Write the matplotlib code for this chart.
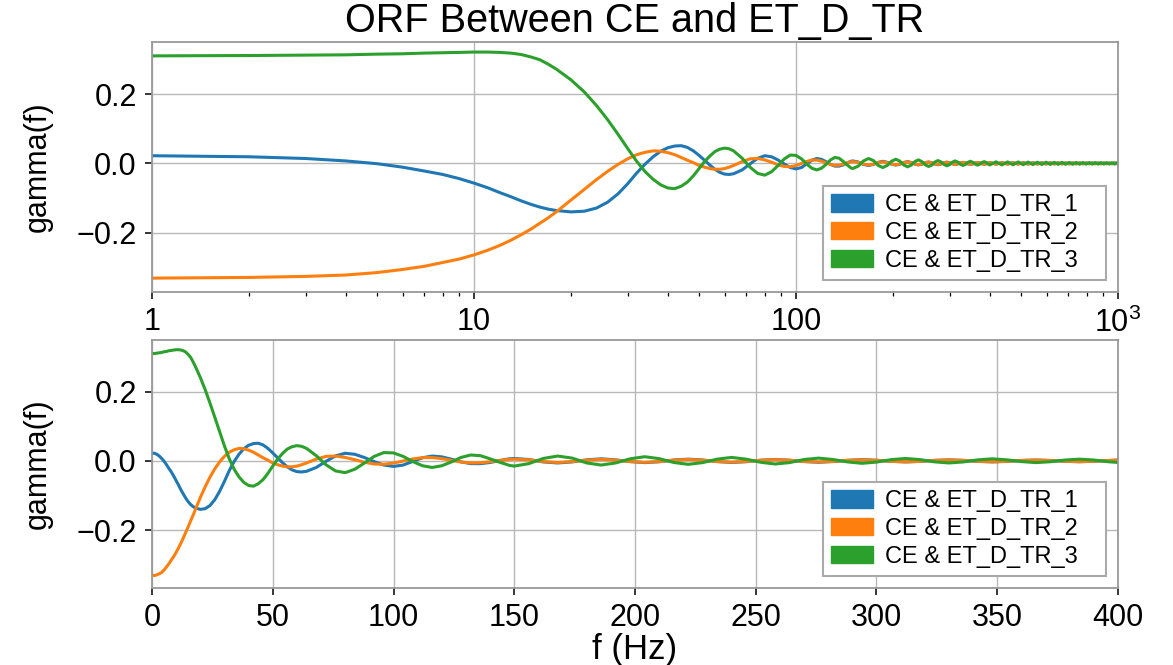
import matplotlib
matplotlib.use("Agg")
import matplotlib.pyplot as plt
from matplotlib.patches import Patch
import numpy as np

# ---------------- data ----------------
freq = [0, 1, 2, 3, 4, 5, 6, 7, 8, 9,
        10, 11, 12, 13, 14, 15, 16, 17, 18,
        20, 22, 24, 26, 28, 30, 32, 34, 36, 38, 40, 42, 44, 46, 48,
        50, 52, 54, 56, 58, 60, 62, 64,
        68, 72, 76, 80, 84, 88, 92, 96, 100, 104, 108, 112, 116, 120, 124, 128, 132,
        136, 140, 144, 148,
        150, 156, 162, 168, 174, 180, 186, 192, 198, 204, 210, 216, 222, 228, 234, 240,
        246, 252, 258, 264, 270, 276, 282, 288, 294, 300, 306, 312, 318, 324, 330, 336,
        342, 348, 354, 360, 366, 372, 378, 384, 390, 396, 400,
        418, 436, 454, 472, 490, 508, 526, 544, 562, 580, 598, 616, 634, 652, 670, 688,
        706, 724, 742, 760, 778, 796, 814, 832, 850, 868, 886, 904, 922, 940, 958, 976,
        994, 1000]

gamma_tr1 = [0.022, 0.022, 0.019, 0.014, 0.007, -0.001, -0.011, -0.022, -0.032, -0.044,
             -0.057, -0.070, -0.084, -0.096, -0.108, -0.118, -0.126, -0.132, -0.136,
             -0.140, -0.138, -0.129, -0.112, -0.088,
             -0.059, -0.028, -0.002, 0.019, 0.035, 0.045, 0.050, 0.051, 0.046, 0.036,
             0.023, 0.009, -0.005, -0.017, -0.026, -0.031, -0.032, -0.030,
             -0.019, -0.0015, 0.0145, 0.022, 0.019, 0.0096, -0.002, -0.012, -0.016, -0.012,
             -0.0015, 0.009, 0.014, 0.0116, 0.0048, -0.003, -0.008, -0.008, -0.0046, 0.001, 0.006,
             0.007, 0.004, -0.003, -0.006, -0.003, 0.003, 0.006, 0.003, -0.002, -0.005,
             -0.0025, 0.0025, 0.005, 0.0026, -0.002, -0.0045, -0.0024, 0.002, 0.004, 0.002,
             -0.002, -0.004, -0.002, 0.0016, 0.0035, 0.0019, -0.0014, -0.003, -0.0015, 0.0015,
             0.003, 0.0015, -0.0015, -0.003, -0.0016, 0.0012, 0.0025, 0.0012, -0.0012, -0.0025,
             -0.0012, 0.0012, 0.0025,
             -0.0024, 0.0023, -0.0022, 0.0022, -0.0021, 0.002, -0.002, 0.0019, -0.0019, 0.0018,
             -0.0018, 0.0017, -0.0017, 0.0016, -0.0016, 0.0015, -0.0015, 0.0015, -0.0014, 0.0014,
             -0.0014, 0.0013, -0.0013, 0.0013, -0.0012, 0.0012, -0.0012, 0.0012, -0.0011, 0.0011,
             -0.0011, 0.0011, -0.001, 0.0005]

gamma_tr2 = [-0.330, -0.331, -0.329, -0.326, -0.322, -0.315, -0.306, -0.297, -0.286, -0.276,
             -0.264, -0.251, -0.237, -0.222, -0.206, -0.190, -0.173, -0.157, -0.140,
             -0.106, -0.075, -0.047, -0.023, -0.003,
             0.013, 0.025, 0.032, 0.036, 0.035, 0.031, 0.025, 0.017, 0.009, 0.002,
             -0.006, -0.011, -0.015, -0.017, -0.017, -0.015, -0.011, -0.006,
             0.005, 0.013, 0.014, 0.010, 0.0033, -0.004, -0.009, -0.0097, -0.0063, -0.0004,
             0.0056, 0.0095, 0.0096, 0.0064, 0.0014, -0.0034, -0.0059, -0.0053, -0.0024, 0.0014, 0.0043,
             0.005, 0.003, -0.002, -0.0045, -0.002, 0.002, 0.0045, 0.002, -0.002, -0.004,
             -0.002, 0.002, 0.004, 0.002, -0.002, -0.0035, -0.0018, 0.0017, 0.0035, 0.0017,
             -0.0017, -0.003, -0.0015, 0.0015, 0.003, 0.0015, -0.0013, -0.0028, -0.0014, 0.0013,
             0.0026, 0.0013, -0.0012, -0.0025, -0.0012, 0.0011, 0.0023, 0.0011, -0.0011, -0.0022,
             -0.0011, 0.0011, 0.0022,
             -0.0022, 0.0021, -0.002, 0.002, -0.0019, 0.0018, -0.0018, 0.0017, -0.0017, 0.0016,
             -0.0016, 0.0015, -0.0015, 0.0014, -0.0014, 0.0014, -0.0013, 0.0013, -0.0013, 0.0012,
             -0.0012, 0.0012, -0.0011, 0.0011, -0.0011, 0.0011, -0.001, 0.001, -0.001, 0.001,
             -0.001, 0.001, -0.0009, 0.0005]

gamma_tr3 = [0.310, 0.310, 0.311, 0.312, 0.313, 0.315, 0.316, 0.318, 0.319, 0.320,
             0.321, 0.321, 0.320, 0.318, 0.314, 0.307, 0.299, 0.286, 0.272,
             0.241, 0.206, 0.167, 0.126, 0.084,
             0.043, 0.006, -0.024, -0.046, -0.062, -0.071, -0.073, -0.066, -0.054, -0.036,
             -0.015, 0.005, 0.021, 0.034, 0.041, 0.044, 0.042, 0.036,
             0.015, -0.011, -0.029, -0.034, -0.024, -0.006, 0.013, 0.024, 0.023, 0.013,
             -0.002, -0.014, -0.019, -0.014, -0.003, 0.010, 0.017, 0.015, 0.006, -0.004, -0.013,
             -0.015, -0.008, 0.007, 0.014, 0.008, -0.006, -0.012, -0.006, 0.006, 0.012,
             0.0065, -0.0045, -0.010, -0.005, 0.005, 0.010, 0.005, -0.004, -0.009, -0.005,
             0.004, 0.008, 0.004, -0.003, -0.007, -0.0035, 0.0035, 0.007, 0.0037, -0.0028,
             -0.006, -0.003, 0.003, 0.006, 0.003, -0.002, -0.005, -0.0025, 0.0025, 0.005,
             0.0025, -0.0025, -0.0045,
             0.0045, -0.0045, 0.0042, -0.0041, 0.004, -0.0038, 0.0037, -0.0035, 0.0034, -0.0033,
             0.0032, -0.0031, 0.003, -0.0029, 0.0029, -0.0028, 0.0027, -0.0027, 0.0026, -0.0025,
             0.0025, -0.0024, 0.0024, -0.0023, 0.0023, -0.0022, 0.0022, -0.0021, 0.0021, -0.0021,
             0.002, -0.002, 0.002, 0.001]

labels = ["CE & ET_D_TR_1", "CE & ET_D_TR_2", "CE & ET_D_TR_3"]
colors = ["#1f77b4", "#ff7f0e", "#2ca02c"]
title = "ORF Between CE and ET_D_TR"
ylabel = "gamma(f)"
xlabel = "f (Hz)"
log_ticks = [1, 10, 100, 1000]
log_ticklabels = ["1", "10", "100", r"$\mathdefault{10^3}$"]
lin_ticks = [0, 50, 100, 150, 200, 250, 300, 350, 400]

series = [gamma_tr1, gamma_tr2, gamma_tr3]
for s in series:
    assert len(s) == len(freq), (len(s), len(freq))

# ---------------- style ----------------
plt.rcParams["font.family"] = ["Liberation Sans", "DejaVu Sans"]
plt.rcParams["mathtext.fontset"] = "custom"
plt.rcParams["mathtext.rm"] = "Liberation Sans"
plt.rcParams["axes.unicode_minus"] = True

W, H = 1173, 665
fig = plt.figure(figsize=(W / 100, H / 100), dpi=100)
left, right = 152 / W, 1118 / W
ax1 = fig.add_axes([left, 1 - 292 / H, right - left, (292 - 42) / H])
ax2 = fig.add_axes([left, 1 - 588 / H, right - left, (588 - 340) / H])

f = np.array(freq, dtype=float)
pos = f > 0

for s, c, lab in zip(series, colors, labels):
    s = np.array(s)
    ax1.plot(f[pos], s[pos], color=c, lw=2.2, label=lab)
    ax2.plot(f, s, color=c, lw=2.2, label=lab)

ax1.set_xscale("log")
ax1.set_xlim(1, 1000)
ax1.set_ylim(-0.371, 0.350)
ax1.set_xticks(log_ticks)
ax1.set_xticklabels(log_ticklabels)

ax2.set_xlim(0, 400)
ax2.set_ylim(-0.367, 0.349)
ax2.set_xticks(lin_ticks)

for ax in (ax1, ax2):
    ax.set_yticks([-0.2, 0.0, 0.2])
    ax.set_yticklabels(["\u22120.2", "0.0", "0.2"])
    ax.grid(True, which="major", color="#b8b8b8", lw=1.0)
    ax.set_axisbelow(True)
    for sp in ax.spines.values():
        sp.set_color("#999999")
        sp.set_linewidth(1.3)
    ax.tick_params(axis="both", which="major", labelsize=22, length=5, width=1.1,
                   color="black", direction="out", pad=6)
    ax.tick_params(axis="both", which="minor", length=3, width=0.9, color="black")
    ax.set_ylabel(ylabel, fontsize=22, labelpad=17)
    handles = [Patch(facecolor=c, edgecolor=c) for c in colors]
    leg = ax.legend(handles, [lab + "   " for lab in labels], loc="lower right",
                    fontsize=17, frameon=True,
                    fancybox=False, framealpha=1.0, edgecolor="#aaaaaa",
                    handlelength=1.8, handleheight=0.75, handletextpad=0.5,
                    labelspacing=0.25, borderpad=0.35, borderaxespad=0.5)
    leg.get_frame().set_linewidth(1.5)

ax1.set_title(title, fontsize=28.5, pad=7)
ax2.set_xlabel(xlabel, fontsize=25, labelpad=0)

fig.savefig("out.png", dpi=100)
